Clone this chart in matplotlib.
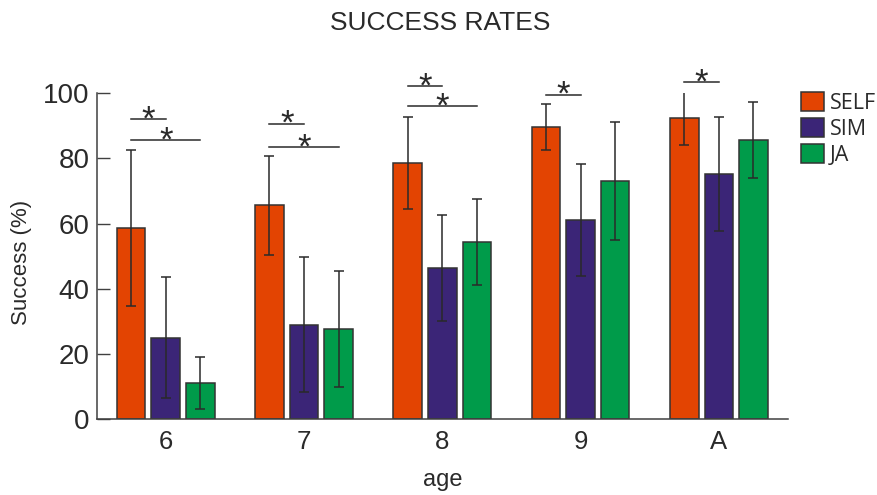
import matplotlib.pyplot as plt
import numpy as np

plt.rcParams['font.family'] = ['Liberation Sans', 'DejaVu Sans']

ages = ['6', '7', '8', '9', 'A']
conditions = ['SELF', 'SIM', 'JA']
colors = ['#E34402', '#3B2577', '#009B4A']

self_mean = [58.7, 65.7, 78.6, 89.7, 92.5]
self_err = [24.0, 15.2, 14.0, 7.0, 8.5]
sim_mean = [25.0, 29.0, 46.4, 61.2, 75.2]
sim_err = [18.5, 20.8, 16.2, 17.2, 17.4]
ja_mean = [11.0, 27.5, 54.3, 73.2, 85.6]
ja_err = [8.0, 17.8, 13.3, 18.1, 11.7]

# significance brackets: (age index, first bar, second bar, line level)
sig_pairs = [
    (0, 0, 1, 92.1), (0, 0, 2, 85.6),
    (1, 0, 1, 90.7), (1, 0, 2, 83.6),
    (2, 0, 1, 102.1), (2, 0, 2, 96.1),
    (3, 0, 1, 99.6),
    (4, 0, 1, 103.5),
]

ink = '#2a2a2a'
step = 0.25
width = 0.206

fig = plt.figure(figsize=(8.78, 4.95), dpi=100)
ax = fig.add_axes([0.110, 0.1535, 0.7875, 0.658])

x = np.arange(len(ages))
means = [self_mean, sim_mean, ja_mean]
errs = [self_err, sim_err, ja_err]
for j, (m, e, c, name) in enumerate(zip(means, errs, colors, conditions)):
    pos = x + (j - 1) * step
    ax.bar(pos, m, width=width, color=c, edgecolor='#333333', linewidth=1.1,
           label=name, zorder=2)
    ax.errorbar(pos, m, yerr=e, fmt='none', ecolor=ink, elinewidth=1.1,
                capsize=3.5, capthick=1.1, zorder=3)

for g, a, b, level in sig_pairs:
    x0 = g + (a - 1) * step
    x1 = g + (b - 1) * step
    ax.plot([x0, x1], [level, level], color=ink, lw=1.1, clip_on=False)
    ax.text((x0 + x1) / 2, level - 3.2, '*', ha='center', va='baseline',
            fontsize=25, color=ink, clip_on=False)

ax.set_xlim(-0.5, 4.5)
ax.set_ylim(0, 100)
ax.set_yticks([0, 20, 40, 60, 80, 100])
ax.set_xticks(x)
ax.set_xticklabels(ages)
ax.tick_params(axis='y', direction='in', length=9.5, width=1.0, colors='#404040',
               labelsize=20, labelcolor=ink, pad=5)
ax.tick_params(axis='x', length=0, labelsize=18.5, labelcolor=ink, pad=8)

for side in ['top', 'right']:
    ax.spines[side].set_visible(False)
for side in ['left', 'bottom']:
    ax.spines[side].set_color('#404040')
    ax.spines[side].set_linewidth(1.1)

ax.set_xlabel('age', fontsize=17, color=ink, labelpad=11)
ax.set_ylabel('Success (%)', fontsize=16, color=ink)
ax.yaxis.set_label_coords(-0.094, 0.48)
fig.text(0.501, 0.953, 'SUCCESS RATES', ha='center', va='center',
         fontsize=19, color=ink)

ax.legend(loc='upper left', bbox_to_anchor=(0.912, 0.815),
          bbox_transform=fig.transFigure, frameon=False, borderpad=0,
          borderaxespad=0, handlelength=1.07, handleheight=1.0,
          handletextpad=0.3, labelspacing=0.2,
          prop={'family': 'Open Sans', 'size': 15.5}, labelcolor=ink)

fig.savefig('out.png', dpi=100)
